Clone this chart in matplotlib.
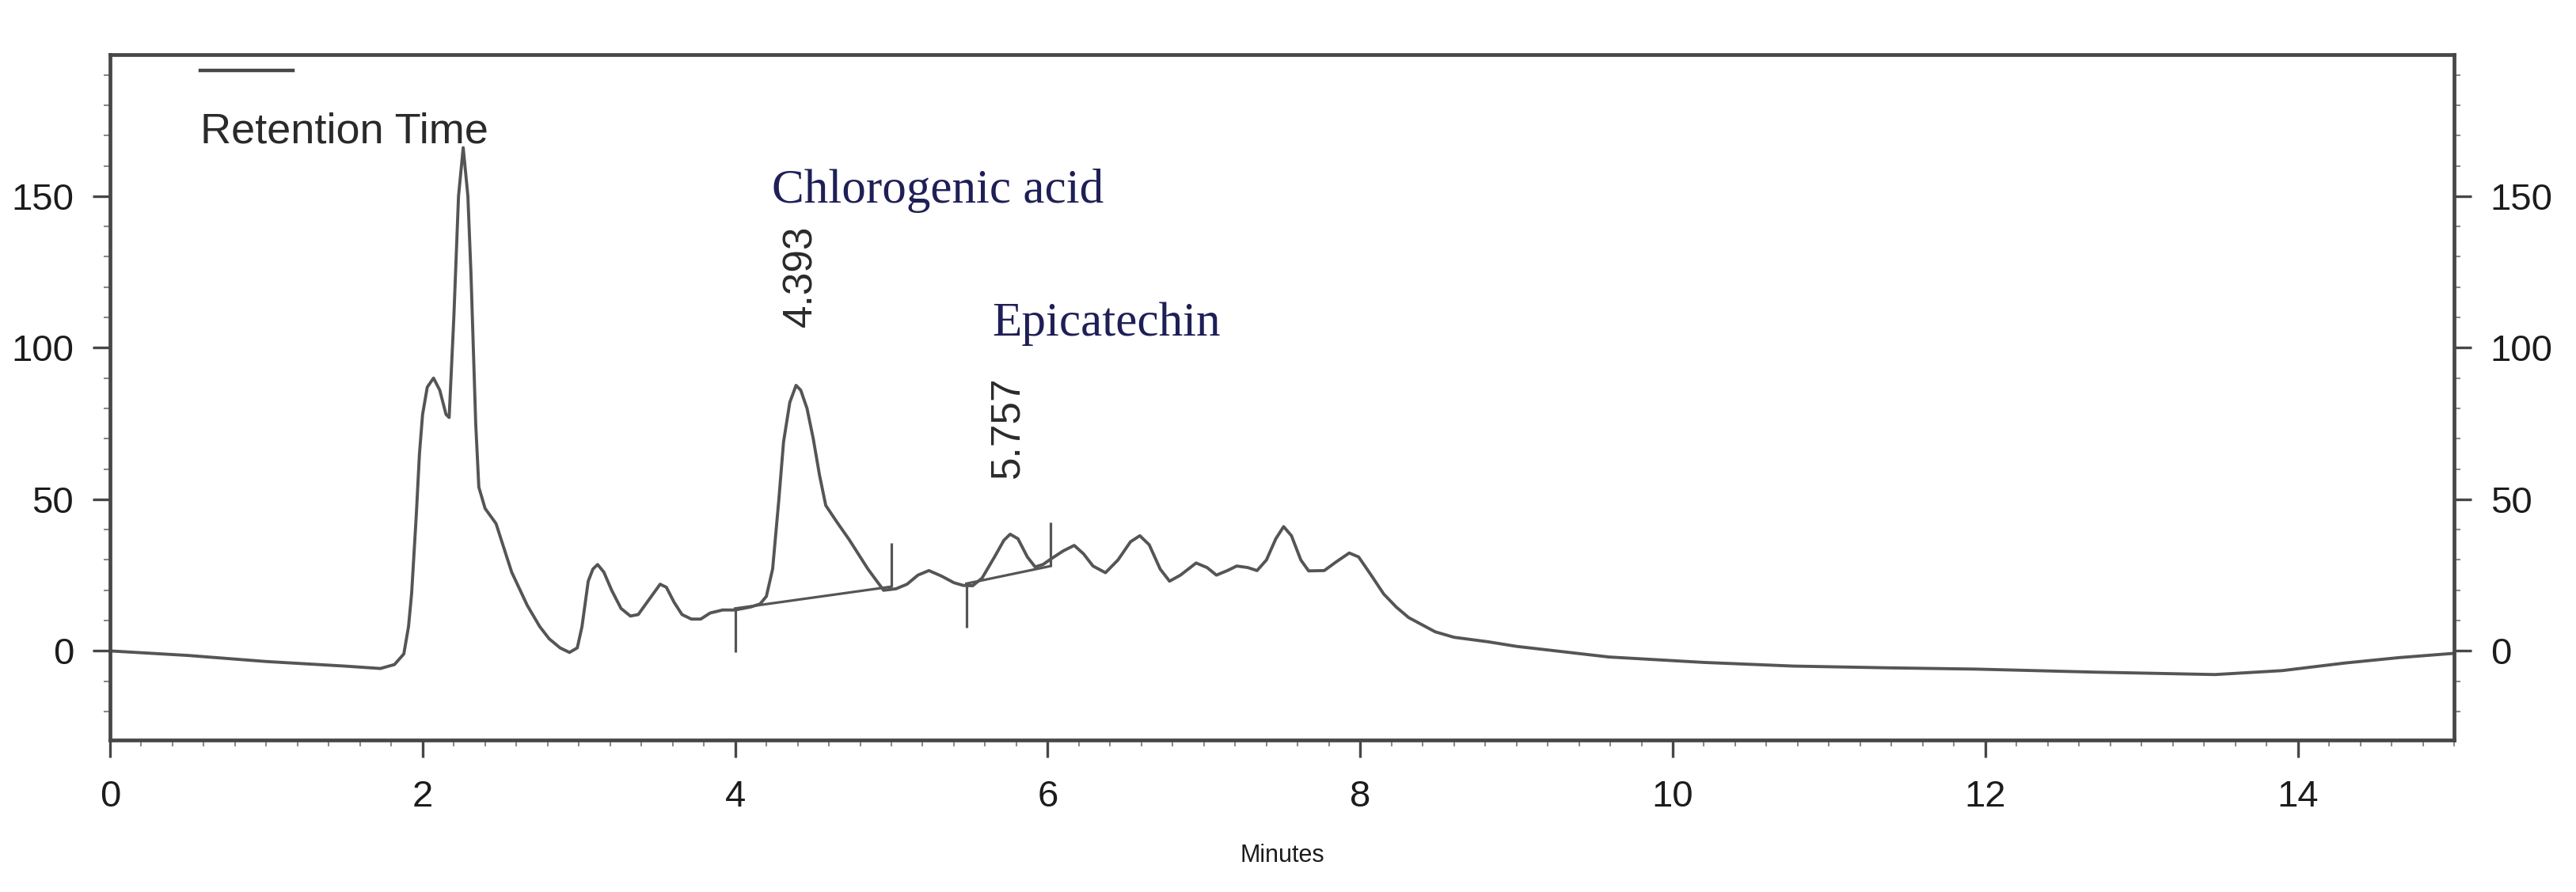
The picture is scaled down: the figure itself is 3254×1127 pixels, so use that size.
import matplotlib
matplotlib.use("Agg")
import matplotlib.pyplot as plt
from matplotlib.lines import Line2D
from matplotlib.ticker import MultipleLocator

# ---------------- data ----------------
time_min = [0.00, 0.50, 1.00, 1.50, 1.73, 1.82, 1.88, 1.91, 1.93, 1.96, 1.98, 2.00,
            2.03, 2.07, 2.11, 2.15, 2.17, 2.20, 2.23, 2.26, 2.29, 2.31, 2.34, 2.36,
            2.40, 2.47, 2.52, 2.57, 2.67, 2.75, 2.81, 2.88, 2.94, 2.99, 3.02, 3.06,
            3.09, 3.12, 3.16, 3.21, 3.27, 3.33, 3.38, 3.45, 3.52, 3.56, 3.61, 3.66,
            3.72, 3.78, 3.84, 3.92, 4.00, 4.10, 4.16, 4.20, 4.24, 4.28, 4.31, 4.35,
            4.39, 4.42, 4.46, 4.50, 4.54, 4.58, 4.65, 4.73, 4.85, 4.95, 5.03, 5.10,
            5.17, 5.24, 5.32, 5.40, 5.46, 5.52, 5.58, 5.66, 5.72, 5.76, 5.81, 5.87,
            5.92, 5.97, 6.02, 6.10, 6.17, 6.23, 6.29, 6.37, 6.45, 6.53, 6.59, 6.65,
            6.72, 6.78, 6.85, 6.95, 7.02, 7.08, 7.15, 7.21, 7.28, 7.34, 7.40, 7.46,
            7.51, 7.56, 7.62, 7.67, 7.77, 7.85, 7.93, 7.99, 8.07, 8.15, 8.23, 8.31,
            8.40, 8.48, 8.60, 8.82, 9.00, 9.59, 10.20, 10.77, 11.40, 11.94, 12.70,
            13.47, 13.90, 14.30, 14.65, 15.00]
signal = [0.0, -1.5, -3.5, -5.0, -5.8, -4.5, -1.0, 8, 19, 45, 65, 78,
          87, 90, 86, 78, 77, 110, 150, 166, 150, 124, 75, 54,
          47, 42, 34, 26, 15, 8, 4, 1, -0.5, 1, 8, 23,
          27, 28.5, 26, 20, 14, 11.5, 12, 17, 22, 21, 16, 12,
          10.5, 10.5, 12.5, 13.5, 13.5, 14.5, 15.5, 18, 27, 50, 69, 82,
          87.6, 86, 80, 70, 58, 48, 42.6, 36.7, 27, 20, 20.5, 22,
          25, 26.5, 24.7, 22.5, 21.6, 21.5, 24, 31, 36.5, 38.5, 37, 31,
          27.7, 28.5, 30.3, 33, 34.8, 32, 28, 25.8, 30, 36, 38, 35,
          27, 23, 25, 29, 27.5, 25, 26.5, 28, 27.5, 26.5, 30, 37,
          41, 38, 30, 26.4, 26.5, 29.5, 32.3, 31, 25, 18.8, 14.5, 11,
          8.5, 6.3, 4.5, 3.0, 1.5, -2.0, -3.8, -5.0, -5.6, -6.0, -7.0,
          -7.8, -6.5, -4.0, -2.2, -0.8]

# integration baselines (start/end time, start/end level)
baseline_t = [[4.00, 5.00], [5.48, 6.02]]
baseline_v = [[14.0, 21.2], [22.2, 28.0]]
# integration event marks: time, level on baseline, direction (+1 up, -1 down)
event_t = [4.00, 5.00, 5.48, 6.02]
event_v = [14.0, 21.2, 22.2, 28.0]
event_dir = [-1, 1, -1, 1]
event_len = 14.5

# peak retention labels
peak_rt_labels = ["4.393", "5.757"]
peak_rt_x = [4.42, 5.745]
peak_rt_y = [107, 57]
compound_names = ["Chlorogenic acid", "Epicatechin"]
compound_x = [4.235, 5.643]
compound_y = [148, 104]

x_ticks = [0, 2, 4, 6, 8, 10, 12, 14]
y_ticks = [0, 50, 100, 150]
x_lim = (0, 15)
y_lim = (-29.4, 196.7)

# ---------------- figure ----------------
W, H = 3254, 1127
fig = plt.figure(figsize=(W / 100, H / 100), dpi=100)
ax = fig.add_axes([139 / W, 1 - 935 / H, (3100 - 139) / W, (935 - 69) / H])

curve_col = "#555555"
frame_col = "#474747"
ink = "#1c1c1c"
navy = "#1f1f57"

ax.plot(time_min, signal, color=curve_col, lw=2.8, solid_joinstyle="round")
for bt, bv in zip(baseline_t, baseline_v):
    ax.plot(bt, bv, color=curve_col, lw=2.3)
for t, v, d in zip(event_t, event_v, event_dir):
    ax.vlines(t, v, v + d * event_len, color=curve_col, lw=2.3)

ax.set_xlim(*x_lim)
ax.set_ylim(*y_lim)

for s in ax.spines.values():
    s.set_color(frame_col)
    s.set_linewidth(3.4)

ax.set_xticks(x_ticks)
ax.set_yticks(y_ticks)
ax.xaxis.set_minor_locator(MultipleLocator(0.2))
ax.yaxis.set_minor_locator(MultipleLocator(10))
tick_font = dict(family="Liberation Sans", size=34, color=ink)
ax.tick_params(axis="both", which="major", direction="out", length=16, width=2.4,
               color=frame_col, labelsize=34, labelcolor=ink)
ax.tick_params(axis="both", which="minor", direction="out", length=6, width=1.5,
               color="#8a8a8a")
ax.tick_params(axis="x", which="major", pad=20)
ax.tick_params(axis="y", which="major", pad=17, right=True, labelright=True)
ax.tick_params(axis="y", which="minor", right=True)
for lab in ax.get_xticklabels() + ax.get_yticklabels():
    lab.set_family("Liberation Sans")
for lab in ax.yaxis.get_ticklabels(which="major"):
    lab.set_family("Liberation Sans")
for t in ax.yaxis.get_major_ticks():
    t.label2.set_family("Liberation Sans")
    t.label2.set_fontsize(34)
    t.label2.set_color(ink)

ax.set_xlabel("Minutes", fontsize=22, family="Liberation Sans", color=ink)
ax.xaxis.set_label_coords(0.5, -0.1686)
ax.xaxis.label.set_va("center")

# legend sample line
ax.legend(handles=[Line2D([], [], color=frame_col, lw=3.2)], labels=[" "],
          loc="center left", bbox_to_anchor=(0.0385, 0.9746), frameon=False,
          handlelength=4.2, handletextpad=0.2, borderpad=0, borderaxespad=0,
          fontsize=20)

ax.text(0.578, 167.7, "Retention Time", fontsize=39, family="Liberation Sans",
        color="#2a2a2a", ha="left", va="baseline")

for lbl, x, y in zip(peak_rt_labels, peak_rt_x, peak_rt_y):
    ax.text(x, y, lbl, rotation=90, ha="center", va="bottom", fontsize=37,
            family="Liberation Sans", color="#2a2a2a")
for name, x, y in zip(compound_names, compound_x, compound_y):
    ax.text(x, y, name, ha="left", va="baseline", fontsize=44,
            family="Liberation Serif", color=navy)

fig.savefig("out.png", dpi=100, facecolor="white")
